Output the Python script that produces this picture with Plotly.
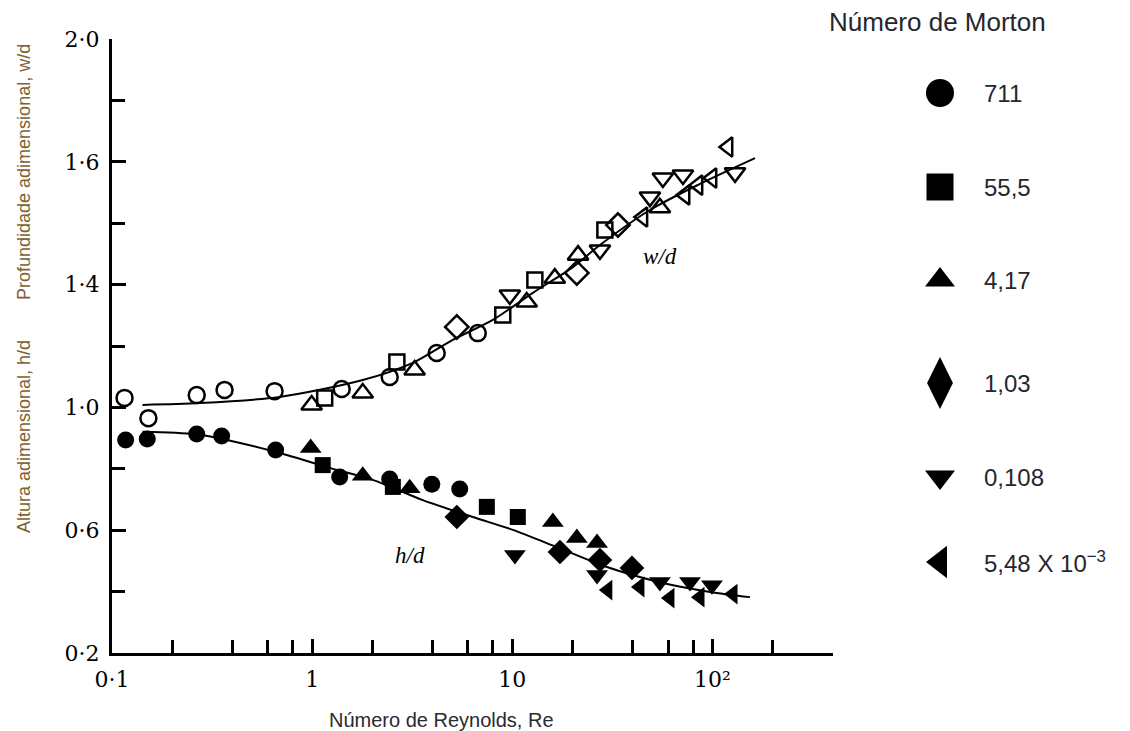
import math
import plotly.graph_objects as go

# ---------------- data ----------------
morton_labels = ["711", "55,5", "4,17", "1,03", "0,108", "5,48 X 10<sup>−3</sup>"]
series_symbols = ["circle", "square", "triangle-up", "diamond", "triangle-down", "triangle-left"]

# h/d  (filled symbols)
hd_re = [
    [0.117, 0.150, 0.265, 0.353, 0.657, 1.373, 2.44, 3.96, 5.46],
    [1.129, 2.53, 7.46, 10.65],
    [0.983, 1.789, 3.07, 15.94, 21.0, 26.5],
    [5.28, 17.3, 27.4, 39.6],
    [10.3, 26.5, 54.6, 77.2, 99.4],
    [30.0, 43.4, 61.3, 86.6, 126.6],
]
hd_val = [
    [0.894, 0.897, 0.913, 0.907, 0.861, 0.773, 0.767, 0.750, 0.734],
    [0.812, 0.741, 0.676, 0.643],
    [0.868, 0.777, 0.737, 0.627, 0.575, 0.558],
    [0.643, 0.529, 0.503, 0.477],
    [0.519, 0.454, 0.431, 0.431, 0.421],
    [0.405, 0.415, 0.379, 0.382, 0.392],
]
# w/d  (open symbols)
wd_re = [
    [0.1155, 0.152, 0.265, 0.365, 0.649, 1.405, 2.44, 4.19, 6.72],
    [1.155, 2.65, 8.96, 12.96, 29.0],
    [0.994, 1.789, 3.25, 11.8, 16.3, 21.3, 54.6],
    [5.28, 21.0, 33.7],
    [9.72, 27.4, 48.7, 56.5, 71.2, 129.6],
    [44.9, 72.9, 84.6, 99.4, 119.5],
]
wd_val = [
    [1.031, 0.965, 1.040, 1.057, 1.053, 1.060, 1.099, 1.177, 1.242],
    [1.031, 1.148, 1.301, 1.415, 1.578],
    [1.008, 1.047, 1.122, 1.343, 1.421, 1.496, 1.650],
    [1.262, 1.438, 1.594],
    [1.366, 1.513, 1.685, 1.747, 1.757, 1.764],
    [1.620, 1.692, 1.724, 1.747, 1.848],
]
# fitted curves
wd_fit_re = [0.142, 0.274, 0.688, 1.789, 3.18, 5.04, 7.99, 12.66, 20.07, 27.4, 48.7, 86.6, 163.1]
wd_fit_val = [1.008, 1.014, 1.034, 1.089, 1.145, 1.220, 1.285, 1.373, 1.457, 1.529, 1.643, 1.728, 1.812]
hd_fit_re = [0.142, 0.26, 0.40, 0.746, 1.223, 2.007, 3.57, 6.35, 10.06, 16.69, 29.7, 56.5, 97.2, 154]
hd_fit_val = [0.921, 0.913, 0.890, 0.845, 0.803, 0.764, 0.698, 0.643, 0.601, 0.545, 0.480, 0.428, 0.399, 0.382]

x_tickvals = [0.1, 1, 10, 100]
x_ticktext = ["0·1", "1", "10", "10²"]
x_minor = [0.2, 0.4, 0.6, 0.8, 2, 4, 6, 8, 20, 40, 60, 80, 200, 400]
y_tickvals = [0.2, 0.6, 1.0, 1.4, 1.8, 2.2]
y_ticktext = ["0·2", "0·6", "1·0", "1·4", "1·6", "2·0"]
y_minor = [0.4, 0.8, 1.2, 1.6, 2.0]

# ---------------- styling ----------------
W, H = 1130, 731
ML, MR, MT, MB = 112, 10, 39, 78
PW = W - ML - MR
PH = H - MT - MB
main_right_px = 833
plot_sizes = {"circle": 17, "square": 16, "triangle-up": 19, "diamond": 19,
              "triangle-down": 19, "triangle-left": 18}
legend_sizes = {"circle": 28, "square": 27, "triangle-up": 26, "diamond": 37,
                "triangle-down": 26, "triangle-left": 28}
legend_symbols = {"diamond": "diamond-tall"}
legend_rows_px = [93, 187, 280, 383, 477, 562]
serif = "DejaVu Serif, Liberation Serif, serif"
serif_it = "Liberation Serif, DejaVu Serif, serif"
sans = "Liberation Sans, Arial, sans-serif"
title_brown = "#80612f"
legend_text = "#26262e"


def px_x(px):
    return (px - ML) / PW


def px_y(py):
    return (H - MB - py) / PH


fig = go.Figure()

fig.add_trace(go.Scatter(x=wd_fit_re, y=wd_fit_val, mode="lines",
                         line=dict(color="black", width=2, shape="spline", smoothing=0.8),
                         showlegend=False, hoverinfo="skip"))
fig.add_trace(go.Scatter(x=hd_fit_re, y=hd_fit_val, mode="lines",
                         line=dict(color="black", width=2, shape="spline", smoothing=0.8),
                         showlegend=False, hoverinfo="skip"))

for i, sym in enumerate(series_symbols):
    fig.add_trace(go.Scatter(
        x=wd_re[i], y=wd_val[i], mode="markers", showlegend=False,
        marker=dict(symbol=sym + "-open", size=plot_sizes[sym] - 1, color="black",
                    line=dict(width=2.5, color="black")),
        cliponaxis=False))
    fig.add_trace(go.Scatter(
        x=hd_re[i], y=hd_val[i], mode="markers", showlegend=False,
        marker=dict(symbol=sym, size=plot_sizes[sym], color="black", line=dict(width=0)),
        cliponaxis=False))

# custom legend on a pixel-mapped secondary axis
x2_dom0 = px_x(main_right_px + 5)
for i, sym in enumerate(series_symbols):
    fig.add_trace(go.Scatter(
        x=[940], y=[legend_rows_px[i]], xaxis="x2", yaxis="y2", mode="markers", showlegend=False,
        marker=dict(symbol=legend_symbols.get(sym, sym), size=legend_sizes[sym], color="black",
                    line=dict(width=0)),
        cliponaxis=False, hoverinfo="skip"))
    fig.add_annotation(x=982, y=legend_rows_px[i], xref="x2", yref="y2", text=morton_labels[i],
                       showarrow=False, xanchor="left", yanchor="middle",
                       font=dict(family=sans, size=24, color=legend_text))

fig.add_annotation(x=px_x(937), y=px_y(22), xref="paper", yref="paper",
                   text="Número de Morton", showarrow=False, xanchor="center", yanchor="middle",
                   font=dict(family=sans, size=26, color=legend_text))

# curve labels
fig.add_annotation(x=math.log10(54.6), y=1.49, text="<i>w/d</i>", showarrow=False,
                   xanchor="center", yanchor="middle",
                   font=dict(family=serif_it, size=23, color="black"))
fig.add_annotation(x=math.log10(3.07), y=0.519, text="<i>h/d</i>", showarrow=False,
                   xanchor="center", yanchor="middle",
                   font=dict(family=serif_it, size=23, color="black"))

# axis titles
fig.add_annotation(x=px_x(441), y=px_y(720), xref="paper", yref="paper",
                   text="Número de Reynolds, Re", showarrow=False, xanchor="center", yanchor="middle",
                   font=dict(family=sans, size=20, color="#2a2a30"))
fig.add_annotation(x=px_x(24), y=px_y(172), xref="paper", yref="paper",
                   text="Profundidade adimensional, w/d", showarrow=False, textangle=-90,
                   xanchor="center", yanchor="middle",
                   font=dict(family=sans, size=18, color=title_brown))
fig.add_annotation(x=px_x(24), y=px_y(437), xref="paper", yref="paper",
                   text="Altura adimensional, h/d", showarrow=False, textangle=-90,
                   xanchor="center", yanchor="middle",
                   font=dict(family=sans, size=18, color=title_brown))

axis_common = dict(showline=True, linecolor="black", linewidth=3, showgrid=False, zeroline=False,
                   ticks="inside", ticklen=14, tickwidth=2.5, tickcolor="black",
                   tickfont=dict(family=serif, size=22, color="black"))

fig.update_layout(
    width=W, height=H,
    margin=dict(l=ML, r=MR, t=MT, b=MB),
    paper_bgcolor="white", plot_bgcolor="white",
    showlegend=False,
    xaxis=dict(type="log", range=[-1, math.log10(400)], domain=[0, px_x(main_right_px)],
               tickmode="array", tickvals=x_tickvals, ticktext=x_ticktext, ticklabelstandoff=5,
               minor=dict(tickmode="array", tickvals=x_minor, ticks="inside", ticklen=13, tickwidth=2.5,
                          tickcolor="black", showgrid=False),
               **axis_common),
    yaxis=dict(range=[0.2, 2.2], tickmode="array", tickvals=y_tickvals, ticktext=y_ticktext,
               ticklabelstandoff=5,
               minor=dict(tickmode="array", tickvals=y_minor, ticks="inside", ticklen=13, tickwidth=2.5,
                          tickcolor="black", showgrid=False),
               **axis_common),
    xaxis2=dict(domain=[x2_dom0, 1], range=[ML + x2_dom0 * PW, W - MR], anchor="y2", visible=False),
    yaxis2=dict(domain=[0, 1], range=[H - MB, MT], anchor="x2", visible=False),
)

fig.write_html("out.html")
